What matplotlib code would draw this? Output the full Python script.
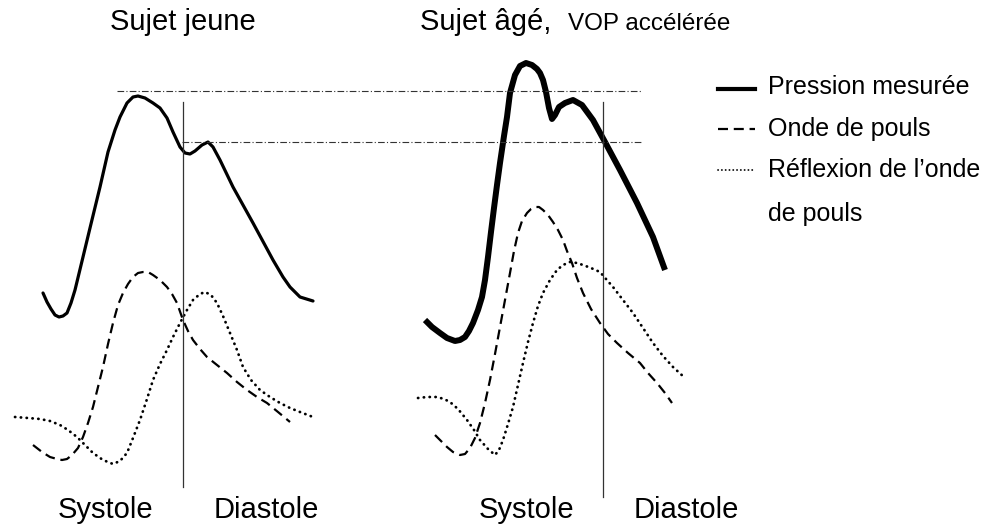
import matplotlib
matplotlib.use('Agg')
import matplotlib.pyplot as plt

plt.rcParams['font.family'] = ['Liberation Sans', 'DejaVu Sans']

jeune_pression_x = [43, 47, 51, 55, 59, 63, 67, 71, 75, 83, 90, 100, 108, 115, 120, 127, 133, 138, 145, 153, 160, 167, 173, 180, 185, 190, 195, 202, 208, 213, 220, 233, 253, 273, 283, 290, 300, 313]
jeune_pression_y = [293, 302, 309, 315, 317, 316, 313, 303, 290, 257, 228, 187, 152, 130, 117, 103, 97, 96, 98, 103, 108, 118, 132, 147, 153, 154, 151, 145, 142, 147, 160, 187, 223, 260, 277, 287, 297, 301]

jeune_onde_x = [33, 42, 50, 57, 62, 67, 72, 78, 83, 88, 93, 98, 103, 108, 113, 118, 123, 128, 133, 138, 143, 148, 153, 160, 167, 172, 177, 183, 188, 193, 200, 207, 217, 227, 237, 247, 257, 267, 278, 290]
jeune_onde_y = [445, 452, 457, 459, 460, 459, 455, 448, 437, 423, 407, 387, 367, 344, 323, 305, 293, 284, 277, 273, 272, 272, 275, 280, 287, 294, 303, 320, 331, 340, 349, 357, 365, 373, 382, 390, 397, 403, 412, 422]

jeune_refl_x = [15, 28, 40, 50, 60, 68, 77, 85, 93, 103, 113, 120, 127, 133, 140, 147, 153, 160, 167, 173, 180, 187, 193, 200, 205, 211, 217, 223, 230, 237, 243, 251, 260, 270, 280, 290, 300, 313]
jeune_refl_y = [417, 418, 419, 421, 425, 430, 437, 445, 453, 460, 464, 461, 453, 438, 420, 399, 380, 364, 350, 337, 323, 310, 300, 294, 292, 295, 303, 316, 333, 350, 367, 380, 390, 397, 403, 408, 412, 417]

age_pression_x = [425, 432, 440, 447, 455, 460, 465, 469, 473, 478, 482, 485, 488, 491, 494, 497, 500, 504, 507, 510, 515, 520, 526, 532, 537, 540, 543, 546, 549, 552, 555, 559, 565, 573, 582, 593, 605, 620, 637, 653, 665]
age_pression_y = [320, 327, 333, 338, 341, 340, 337, 331, 323, 310, 297, 280, 257, 232, 208, 185, 163, 136, 117, 93, 75, 66, 63, 65, 69, 73, 80, 92, 108, 119, 115, 107, 103, 100, 105, 120, 142, 170, 203, 237, 270]

age_onde_x = [435, 441, 447, 453, 460, 465, 470, 475, 480, 485, 490, 495, 500, 505, 510, 514, 518, 522, 527, 531, 535, 539, 543, 548, 553, 558, 563, 567, 572, 577, 583, 591, 600, 608, 617, 628, 640, 648, 657, 665, 672]
age_onde_y = [435, 441, 447, 452, 455, 454, 448, 438, 423, 403, 380, 354, 327, 300, 273, 251, 233, 221, 213, 209, 207, 207, 210, 215, 222, 230, 240, 251, 263, 278, 293, 309, 323, 334, 343, 353, 363, 373, 383, 393, 403]

age_refl_x = [418, 427, 437, 444, 450, 458, 467, 474, 480, 488, 495, 499, 503, 508, 513, 518, 523, 528, 533, 538, 543, 550, 557, 563, 570, 577, 583, 591, 600, 606, 613, 623, 633, 643, 653, 663, 673, 685]
age_refl_y = [398, 397, 397, 399, 402, 409, 420, 430, 440, 449, 455, 450, 440, 424, 407, 385, 363, 342, 323, 306, 293, 280, 270, 265, 262, 263, 265, 268, 272, 279, 287, 300, 313, 328, 343, 356, 367, 378]

# repères
separations_x = [183, 603]
niveaux_y = [91, 142]
niveaux_debut_x = [117, 182]

legende = ['Pression mesurée', 'Onde de pouls', 'Réflexion de l\u2019onde', 'de pouls']

pointille = dict(color='black', lw=2.0, linestyle=(0, (0.1, 2.0)), dash_capstyle='round')
tirets = dict(color='black', lw=1.6, dashes=(4.5, 2.6), dash_capstyle='butt')

fig = plt.figure(figsize=(9.97, 5.27), dpi=100)
ax = fig.add_axes([0, 0, 1, 1])
ax.set_xlim(0, 997)
ax.set_ylim(527, 0)
ax.axis('off')

ax.plot(jeune_pression_x, jeune_pression_y, color='black', lw=2.3, solid_joinstyle='round', solid_capstyle='round')
ax.plot(jeune_onde_x, jeune_onde_y, **tirets)
ax.plot(jeune_refl_x, jeune_refl_y, **pointille)

ax.plot(age_pression_x, age_pression_y, color='black', lw=4.3, solid_joinstyle='round', solid_capstyle='butt')
ax.plot(age_onde_x, age_onde_y, **tirets)
ax.plot(age_refl_x, age_refl_y, **pointille)

ax.plot([separations_x[0]] * 2, [102, 487], color='#333333', lw=0.9)
ax.plot([separations_x[1]] * 2, [102, 497], color='#333333', lw=0.9)

for y0, x0 in zip(niveaux_y, niveaux_debut_x):
    ax.plot([x0, 642], [y0, y0], color='#333333', lw=0.8, linestyle=(0, (6, 2, 1, 2)))

# titres
ax.text(183, 22, 'Sujet jeune', fontsize=21, ha='center', va='center')
ax.text(420, 22, 'Sujet âgé,', fontsize=21, ha='left', va='center')
ax.text(568, 24, 'VOP accélérée', fontsize=17.5, ha='left', va='center')

for x0, t in zip([105, 266, 526, 686], ['Systole', 'Diastole', 'Systole', 'Diastole']):
    ax.text(x0, 510, t, fontsize=21, ha='center', va='center')

# légende
ax.plot([718, 755], [89, 89], color='black', lw=3)
ax.plot([718, 755], [129, 129], **tirets)
ax.plot([718, 755], [170, 170], color='black', lw=1.3, linestyle=(0, (0.1, 2.0)), dash_capstyle='round')
for y0, t in zip([87, 129, 170, 214], legende):
    ax.text(768, y0, t, fontsize=18, ha='left', va='center')

fig.savefig('out.png', dpi=100)
